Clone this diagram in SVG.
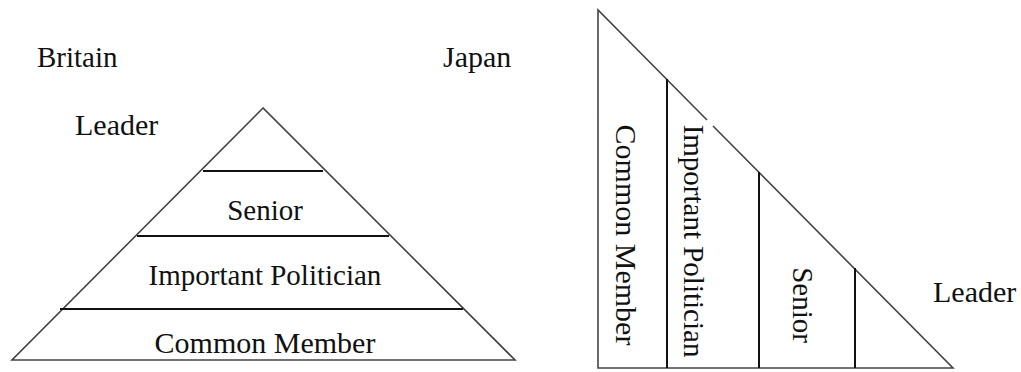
<svg xmlns="http://www.w3.org/2000/svg" width="1021" height="372" viewBox="0 0 1021 372" font-family="Liberation Serif, serif" font-size="30" fill="#111">
<style>
.out{fill:none;stroke:#444;stroke-width:1.6}
.div{fill:none;stroke:#111;stroke-width:2}
</style>
<rect width="1021" height="372" fill="#fff"/>
<g id="titles">
<text x="37" y="67" font-size="29">Britain</text>
<text x="443" y="67">Japan</text>
</g>
<g id="britain-pyramid">
<polygon class="out" points="263,108 12,360 515,360"/>
<g id="britain-leader"><text x="75" y="135">Leader</text></g>
<g id="britain-senior"><line class="div" x1="203" y1="171" x2="323" y2="171"/><text x="265" y="220" text-anchor="middle" font-size="29">Senior</text></g>
<g id="britain-important"><line class="div" x1="137" y1="236" x2="389" y2="236"/><text x="265" y="285" text-anchor="middle" font-size="29">Important Politician</text></g>
<g id="britain-common"><line class="div" x1="60" y1="309" x2="463" y2="309"/><text x="265" y="353" text-anchor="middle">Common Member</text></g>
</g>
<g id="japan-triangle">
<path class="out" d="M707,120 L598,10 L598,368 L953,368 L713,126"/>
<g id="japan-common"><text transform="translate(616,235) rotate(90)" text-anchor="middle">Common Member</text></g>
<g id="japan-important"><line class="div" x1="667" y1="79" x2="667" y2="368"/><text transform="translate(684,241) rotate(90)" text-anchor="middle" font-size="29">Important Politician</text></g>
<g id="japan-senior"><line class="div" x1="759" y1="172" x2="759" y2="368"/><text transform="translate(793,305) rotate(90)" text-anchor="middle" font-size="29">Senior</text></g>
<g id="japan-leader"><line class="div" x1="855" y1="268" x2="855" y2="368"/><text x="933" y="302">Leader</text></g>
</g>
</svg>
